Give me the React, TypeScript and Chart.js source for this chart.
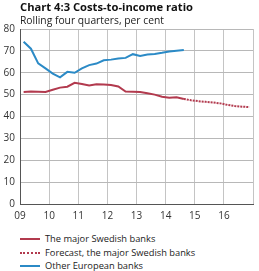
import React, { useEffect, useRef } from "react";
import { Chart, registerables } from "chart.js";

Chart.register(...registerables);

const quarterX = [
  2009.125, 2009.375, 2009.625, 2009.875, 2010.125, 2010.375, 2010.625, 2010.875,
  2011.125, 2011.375, 2011.625, 2011.875, 2012.125, 2012.375, 2012.625, 2012.875,
  2013.125, 2013.375, 2013.625, 2013.875, 2014.125, 2014.375, 2014.625,
];
const swedishBanks = [
  51.2, 51.4, 51.3, 51.2, 52.2, 53.2, 53.6, 55.4,
  54.9, 54.2, 54.7, 54.6, 54.4, 53.7, 51.4, 51.3,
  51.2, 50.6, 50.0, 49.0, 48.6, 48.8, 48.0,
];
const europeanBanks = [
  74.2, 71.0, 64.3, 62.0, 59.6, 57.9, 60.4, 60.0,
  62.0, 63.5, 64.2, 65.7, 66.0, 66.5, 66.8, 68.5,
  67.7, 68.3, 68.6, 69.1, 69.7, 70.1, 70.4,
];
const forecastX = [
  2014.625, 2014.875, 2015.125, 2015.375, 2015.625, 2015.875, 2016.125, 2016.375, 2016.625, 2016.875,
];
const forecastSwedish = [48.0, 47.4, 47.0, 46.7, 46.4, 46.0, 45.3, 44.8, 44.5, 44.3];
const yTicks = [0, 10, 20, 30, 40, 50, 60, 70, 80];
const xTickLabels = ["09", "10", "11", "12", "13", "14", "15", "16", ""];

const RED = "#b23a4e";
const BLUE = "#2b8ac6";
const FONT = "'Open Sans', 'Noto Sans', sans-serif";

const legendItems = [
  { label: "The major Swedish banks", color: RED, dashed: false },
  { label: "Forecast, the major Swedish banks", color: RED, dashed: true },
  { label: "Other European banks", color: BLUE, dashed: false },
];

export default function App() {
  const ref = useRef<HTMLCanvasElement | null>(null);

  useEffect(() => {
    document.body.style.margin = "0";
    const canvas = ref.current;
    if (!canvas) return;
    const toPts = (xs: number[], ys: number[]) => xs.map((x, i) => ({ x, y: ys[i] }));
    const chart = new Chart(canvas, {
      type: "line",
      data: {
        datasets: [
          {
            label: "The major Swedish banks",
            data: toPts(quarterX, swedishBanks),
            borderColor: RED,
            borderWidth: 2,
            pointRadius: 0,
            tension: 0,
          },
          {
            label: "Forecast, the major Swedish banks",
            data: toPts(forecastX, forecastSwedish),
            borderColor: RED,
            borderWidth: 2,
            borderDash: [2, 1],
            pointRadius: 0,
            tension: 0,
          },
          {
            label: "Other European banks",
            data: toPts(quarterX, europeanBanks),
            borderColor: BLUE,
            borderWidth: 2,
            pointRadius: 0,
            tension: 0,
          },
        ],
      },
      options: {
        animation: false,
        responsive: false,
        devicePixelRatio: 1,
        layout: { padding: { top: 29, left: 0, right: 1, bottom: 0 } },
        plugins: { legend: { display: false }, tooltip: { enabled: false }, title: { display: false } },
        scales: {
          x: {
            type: "linear",
            min: 2009,
            max: 2017,
            afterFit: (s: any) => {
              s.height = 24;
            },
            afterBuildTicks: (s: any) => {
              s.ticks = xTickLabels.map((_, i) => ({ value: 2009 + i }));
            },
            ticks: {
              callback: (v: any) => xTickLabels[Math.round(Number(v) - 2009)] ?? "",
              font: { family: FONT, size: 10 },
              color: "#333",
              maxRotation: 0,
              padding: 6,
            },
            grid: { color: "#c4c4c4", lineWidth: 1, drawTicks: false },
            border: { color: "#555", width: 1 },
          },
          y: {
            min: 0,
            max: 80,
            afterFit: (s: any) => {
              s.width = 20;
            },
            afterBuildTicks: (s: any) => {
              s.ticks = yTicks.map((v) => ({ value: v }));
            },
            ticks: {
              font: { family: FONT, size: 10 },
              color: "#333",
              padding: 5,
            },
            grid: { color: "#b8b8b8", lineWidth: 1, drawTicks: false },
            border: { color: "#555", width: 1 },
          },
        },
      },
    } as any);
    return () => chart.destroy();
  }, []);

  return (
    <div style={{ position: "relative", width: 259, height: 271, fontFamily: FONT, overflow: "hidden", background: "#fff" }}>
      <canvas ref={ref} width={259} height={228} style={{ position: "absolute", left: 0, top: 0, width: 259, height: 228 }} />
      <div style={{ position: "absolute", left: 20, top: 0, fontSize: 11.2, fontWeight: 700, color: "#111", whiteSpace: "nowrap", lineHeight: "14px" }}>
        Chart 4:3 Costs-to-income ratio
      </div>
      <div style={{ position: "absolute", left: 20, top: 13, fontSize: 10.3, color: "#222", whiteSpace: "nowrap", lineHeight: "14px" }}>
        Rolling four quarters, per cent
      </div>
      {legendItems.map((it, i) => (
        <div key={i} style={{ position: "absolute", left: 20, top: 232 + i * 13.5, height: 14, display: "flex", alignItems: "center", whiteSpace: "nowrap" }}>
          <div style={{ width: 20, height: 0, borderTop: `2px ${it.dashed ? "dotted" : "solid"} ${it.color}`, marginRight: 5 }} />
          <span style={{ fontSize: 9.3, color: "#222", lineHeight: "14px" }}>{it.label}</span>
        </div>
      ))}
    </div>
  );
}
